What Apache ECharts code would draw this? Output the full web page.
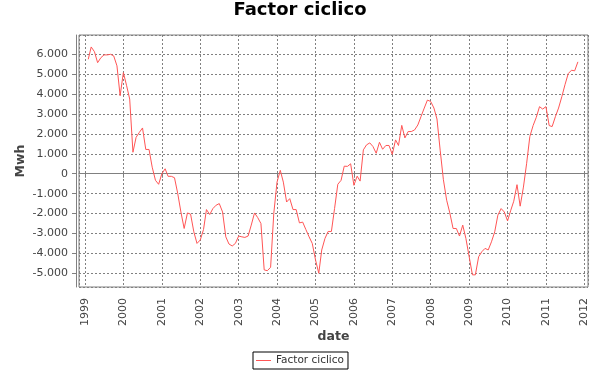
<!DOCTYPE html>
<html>
<head>
<meta charset="utf-8">
<script src="https://cdn.jsdelivr.net/npm/echarts@6/dist/echarts.min.js"></script>
<style>html,body{margin:0;padding:0;background:#fff}#c{width:600px;height:375px}</style>
</head>
<body>
<div id="c"></div>
<script>
// Monthly series: first point is Feb 1999
var startYear = 1999;
var startMonth = 2;
var values = [
  5750, 6370, 6130, 5580, 5830, 5970, 5970, 6000, 5920, 5420, 3920,
  5080, 4420, 3750, 1080, 1830, 2080, 2300, 1220, 1220, 330, -330, -530,
  0, 250, -130, -130, -200, -1000, -1920, -2750, -1970, -2030, -2920, -3500,
  -3330, -2800, -1800, -2050, -1750, -1580, -1500, -1920, -3170, -3530, -3630, -3500,
  -3130, -3170, -3200, -3130, -2580, -1970, -2200, -2500, -4830, -4870, -4700, -2000,
  -420, 170, -420, -1420, -1250, -1800, -1800, -2470, -2430, -2800, -3170, -3500,
  -4330, -5000, -3830, -3250, -2900, -2900, -1750, -530, -330, 380, 370, 500,
  -580, -120, -370, 1200, 1450, 1550, 1370, 1030, 1580, 1230, 1420, 1420,
  970, 1700, 1420, 2430, 1800, 2120, 2120, 2200, 2450, 2870, 3300, 3700,
  3630, 3300, 2750, 1150, -300, -1330, -1970, -2750, -2750, -3130, -2580, -3250,
  -4170, -5080, -5080, -4170, -3920, -3750, -3830, -3420, -2920, -2080, -1750, -1920,
  -2370, -1830, -1380, -550, -1630, -670, 500, 1870, 2420, 2830, 3370, 3250,
  3370, 2420, 2370, 2870, 3300, 3870, 4470, 5030, 5200, 5170, 5620
];
var seriesName = 'Factor ciclico';
var titleText = 'Factor ciclico';
var xName = 'date';
var yName = 'Mwh';

var data = values.map(function (v, i) {
  var mIdx = startMonth - 1 + i;
  var d = new Date(startYear + Math.floor(mIdx / 12), mIdx % 12, 1);
  return [d.getTime(), v];
});

function fmtThousands(v) {
  var neg = v < 0;
  var s = String(Math.abs(Math.round(v)));
  s = s.replace(/\B(?=(\d{3})+(?!\d))/g, '.');
  return (neg ? '-' : '') + s;
}

var FONT = 'DejaVu Sans';
var chart = echarts.init(document.getElementById('c'), null, {renderer: 'canvas'});
var YEAR = 365 * 24 * 3600 * 1000;
chart.setOption({
  animation: false,
  backgroundColor: '#ffffff',
  title: {
    text: titleText,
    left: 'center',
    top: 1,
    padding: 0,
    textStyle: {fontFamily: FONT, fontSize: 18, fontWeight: 'bold', color: '#000'}
  },
  legend: {
    data: [seriesName],
    left: 'center',
    top: 352,
    padding: [3, 4, 3, 3],
    borderColor: '#000',
    borderWidth: 1,
    itemWidth: 15,
    itemHeight: 14,
    icon: 'path://M0,0 H15 V1 H0 Z',
    textStyle: {fontFamily: FONT, fontSize: 10.5, color: '#333'}
  },
  grid: {
    left: 79, top: 35, width: 509, height: 252,
    show: true, borderColor: '#808080', borderWidth: 1, backgroundColor: '#fff',
    containLabel: false
  },
  xAxis: {
    type: 'time',
    min: new Date(1998, 10, 5).getTime(),
    max: new Date(2012, 1, 5).getTime(),
    minInterval: YEAR,
    maxInterval: YEAR + 2 * 24 * 3600 * 1000,
    offset: 6,
    name: xName,
    nameLocation: 'middle',
    nameGap: 37,
    nameMoveOverlap: false,
    nameTextStyle: {fontFamily: FONT, fontSize: 12.5, fontWeight: 'bold', color: '#444'},
    axisLine: {show: true, lineStyle: {color: '#808080', width: 1}},
    axisTick: {show: true, length: 4, inside: false, lineStyle: {color: '#808080'}},
    minorTick: {show: false},
    axisLabel: {
      rotate: 90, margin: 5, fontFamily: FONT, fontSize: 11, color: '#444',
      hideOverlap: false,
      formatter: function (v) { return String(new Date(v).getFullYear()); }
    },
    splitLine: {show: true, lineStyle: {color: '#808080', width: 1, type: [2, 2]}}
  },
  yAxis: {
    type: 'value',
    min: -5690,
    max: 6970,
    splitNumber: 12,
    offset: 3,
    name: yName,
    nameLocation: 'middle',
    nameGap: 49,
    nameMoveOverlap: false,
    nameTextStyle: {fontFamily: FONT, fontSize: 12.5, fontWeight: 'bold', color: '#444'},
    axisLine: {show: true, lineStyle: {color: '#808080', width: 1}},
    axisTick: {show: true, length: 4, inside: false, lineStyle: {color: '#808080'}},
    axisLabel: {
      margin: 8, fontFamily: FONT, fontSize: 11, color: '#444',
      showMinLabel: false, showMaxLabel: false,
      formatter: function (v) { return fmtThousands(v); }
    },
    splitLine: {show: true, lineStyle: {color: '#808080', width: 1, type: [2, 2]}}
  },
  series: [{
    name: seriesName,
    type: 'line',
    data: data,
    symbol: 'none',
    showSymbol: false,
    lineStyle: {color: '#FF5555', width: 1},
    itemStyle: {color: '#FF5555'}
  }]
});
</script>
</body>
</html>
